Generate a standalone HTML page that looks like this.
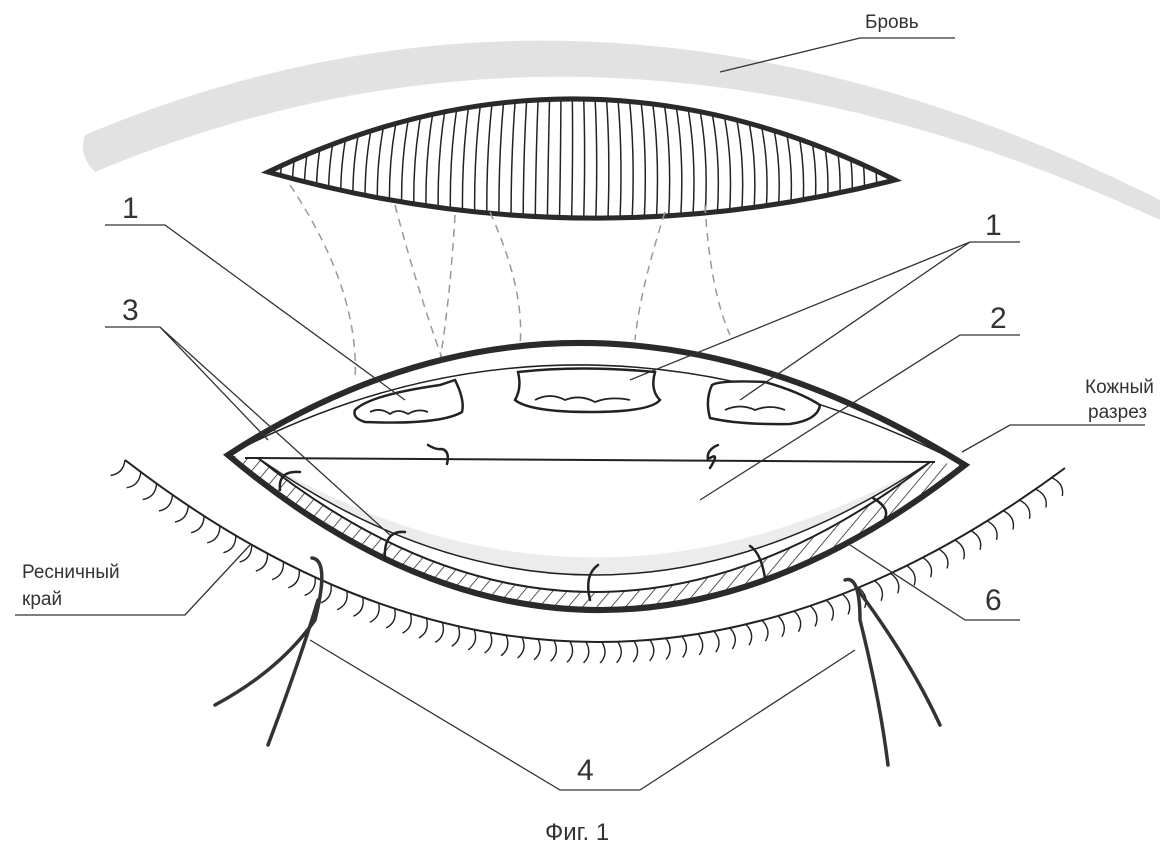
<!DOCTYPE html>
<html><head><meta charset="utf-8"><style>
body{margin:0;background:#fff}
svg{display:block}
text{font-family:"Liberation Sans",sans-serif;fill:#333}
</style></head><body>
<svg id="s" width="1161" height="852" viewBox="0 0 1161 852" xmlns="http://www.w3.org/2000/svg">
<defs>
<clipPath id="up"><path d="M268,172 Q580,22 895,180 Q580,260 268,172Z"/></clipPath>
<pattern id="hp" width="11" height="11" patternUnits="userSpaceOnUse" patternTransform="rotate(40)"><line x1="0" y1="0" x2="0" y2="11" stroke="#222" stroke-width="1.5"/></pattern>
</defs>
<path d="M85,135 Q600,-82 1160,200 L1160,220 Q600,-40 95,172 Q78,155 85,135Z" fill="#e2e2e2"/>
<g id="uph" clip-path="url(#up)" stroke="#222" stroke-width="1.5" fill="none"></g>
<path d="M268,172 Q580,22 895,180 Q580,260 268,172Z" fill="none" stroke="#2a2a2a" stroke-width="5"/>
<g stroke="#999" stroke-width="1.5" stroke-dasharray="8,6" fill="none">
<path d="M290,185 Q360,290 355,380"/><path d="M395,205 Q420,300 450,380"/>
<path d="M455,215 Q450,300 440,360"/><path d="M490,212 Q525,290 520,345"/>
<path d="M665,212 Q640,290 635,340"/><path d="M705,205 Q710,290 730,335"/>
</g>
<path d="M228,455 Q580,226 965,465 Q590,760 228,455Z" fill="#fff"/>
<path d="M258,458 Q590,690 930,462Z" fill="#ececec"/>
<path d="M258,458 Q590,655 930,462Z" fill="#fff"/>
<path d="M228,455 Q590,760 965,465 L930,462 Q590,724 258,458Z" fill="url(#hp)"/>
<path d="M258,458 Q590,724 930,462" fill="none" stroke="#222" stroke-width="2"/>
<path d="M258,458 Q590,690 930,462" fill="none" stroke="#222" stroke-width="1.5"/>
<path d="M228,455 Q580,270 965,465" fill="none" stroke="#222" stroke-width="1.5"/>
<line x1="245" y1="458" x2="935" y2="462" stroke="#222" stroke-width="2"/>
<g fill="#fff" stroke="#222" stroke-width="2.5">
<path d="M355,410 Q370,395 440,385 L455,380 Q465,400 462,412 Q440,425 365,422 Q352,418 355,410Z"/>
<path d="M518,372 Q580,365 655,372 Q650,390 660,400 Q650,412 590,412 Q530,412 515,400 Q522,388 518,372Z"/>
<path d="M712,385 Q720,380 765,382 Q800,392 820,405 Q818,420 790,424 Q740,425 710,418 Q705,400 712,385Z"/>
</g>
<g fill="none" stroke="#222" stroke-width="1.8">
<path d="M370,412 q10,-5 20,2 q8,-6 18,0 q10,-6 20,-2 M535,400 q15,-8 30,0 q15,-6 30,2 q15,-6 35,-2 M725,410 q15,-7 30,0 q15,-6 30,0"/>
</g>
<path d="M228,455 Q580,226 965,465 Q590,760 228,455Z" fill="none" stroke="#2a2a2a" stroke-width="6"/>
<g fill="none" stroke="#222" stroke-width="2.5" stroke-linecap="round">
<path d="M428,445 q8,5 14,4 q8,2 5,15"/><path d="M718,445 q-12,5 -10,15 M710,458 q10,-6 0,10"/>
<path d="M280,490 q-2,-20 20,-18"/><path d="M385,560 q-2,-30 20,-28"/>
<path d="M590,600 q-6,-25 8,-35"/><path d="M765,578 q-4,-25 -15,-32"/>
<path d="M885,518 q5,-10 -12,-20"/>
</g>
<path d="M125,460 Q590,820 1065,468" fill="none" stroke="#222" stroke-width="2"/>
<g id="lash" fill="none" stroke="#222" stroke-width="1.4"></g>
<g fill="none" stroke="#333" stroke-width="3.5" stroke-linecap="round">
<path d="M312,558 Q330,560 315,620 Q280,670 215,705"/><path d="M318,600 Q300,660 268,745"/>
<path d="M845,580 Q860,575 860,620 Q880,700 888,765"/><path d="M858,590 Q910,660 940,725"/>
</g>
<g stroke="#333" stroke-width="1.3" fill="none">
<path d="M955,38 L860,38 L720,72"/>
<path d="M105,225 L165,225 L405,400"/>
<path d="M1020,242 L970,242 L630,380 M970,242 L740,400"/>
<path d="M105,327 L160,327 L390,535 M160,327 L268,440"/>
<path d="M1020,335 L960,335 L700,500"/>
<path d="M1145,425 L1010,425 L962,452"/>
<path d="M15,615 L185,615 L250,545"/>
<path d="M1020,620 L965,620 L850,545"/>
<path d="M640,790 L560,790 L310,640 M640,790 L855,650"/>
</g>
<g font-size="30"><text x="122" y="218">1</text><text x="985" y="235">1</text><text x="122" y="320">3</text><text x="990" y="328">2</text><text x="985" y="610">6</text><text x="577" y="780">4</text></g>
<g font-size="19"><text x="865" y="28">Бровь</text><text x="1085" y="393">Кожный</text><text x="1088" y="418">разрез</text><text x="22" y="578">Ресничный</text><text x="22" y="605">край</text></g>
<text x="545" y="840" font-size="24">Фиг. 1</text>
</svg>
<script>
var ns="http://www.w3.org/2000/svg";
var g=document.getElementById("uph");
for(var x=275;x<895;x+=11){var l=document.createElementNS(ns,"path");var c=(x-582)*0.15;
l.setAttribute("d","M"+x+",80 Q"+(x+c+3)+",150 "+(x+c*0.6)+",240");g.appendChild(l);}
var L=document.getElementById("lash");
for(var t=0.0;t<=1.0;t+=0.017){var x=125*(1-t)*(1-t)+2*590*t*(1-t)+1065*t*t,y=460*(1-t)*(1-t)+2*820*t*(1-t)+468*t*t;
var dx=2*(1-t)*(590-125)+2*t*(1065-590),dy=2*(1-t)*(820-460)+2*t*(468-820);var n=Math.hypot(dx,dy);var nx=-dy/n,ny=dx/n;if(ny<0){nx=-nx;ny=-ny;}
var tx=dx/n,ty=dy/n;var p=document.createElementNS(ns,"path");
p.setAttribute("d","M"+x+","+y+" q"+(nx*12+tx*7)+","+(ny*12+ty*7)+" "+(nx*21-tx*2)+","+(ny*21-ty*2));L.appendChild(p);}
</script>
</body></html>
